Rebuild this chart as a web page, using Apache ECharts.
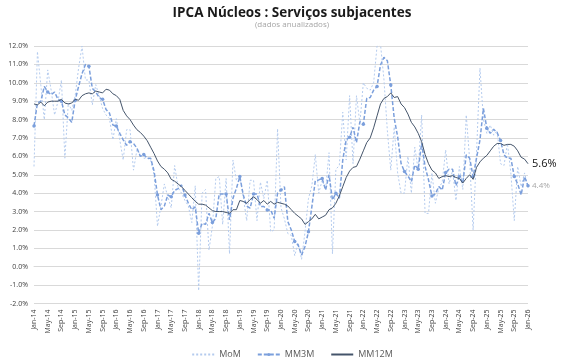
<!DOCTYPE html>
<html><head><meta charset="utf-8">
<script src="https://cdn.jsdelivr.net/npm/echarts@6/dist/echarts.min.js"></script>
<style>html,body{margin:0;padding:0;background:#fff}#c{width:584px;height:364px}</style>
</head><body><div id="c"></div>
<script>
const monthNames = ['Jan','Feb','Mar','Apr','May','Jun','Jul','Aug','Sep','Oct','Nov','Dec'];
const startYear = 14, nMonths = 145;
const categories = [];
for (let i = 0; i < nMonths; i++) categories.push(monthNames[i % 12] + '-' + (startYear + Math.floor(i / 12)));

const mom = [5.45,11.7,9.85,8.0,10.7,9.6,8.25,9.0,10.15,5.9,8.9,8.5,
9.3,10.8,12.0,10.15,10.15,8.8,9.9,9.3,8.6,8.25,8.05,6.9,
8.05,6.9,5.8,7.45,7.45,5.25,6.35,6.1,5.9,5.9,5.8,5.0,
2.2,3.3,4.5,3.8,3.2,5.5,4.3,4.0,3.6,3.3,2.4,4.4,
-1.3,4.0,4.2,0.9,2.2,4.8,4.9,2.3,4.8,0.7,5.8,4.7,
4.9,3.8,2.5,4.7,4.7,2.5,4.6,3.7,4.7,1.9,2.0,7.5,
3.2,2.6,1.8,1.7,0.6,1.3,0.4,1.9,3.7,4.4,6.1,4.0,
4.7,4.2,6.2,0.7,5.3,5.5,8.4,5.8,9.3,5.6,9.3,7.8,
10.0,9.7,9.6,10.0,12.0,12.1,10.2,7.4,5.25,7.6,5.1,4.0,
4.0,6.0,4.0,6.5,5.25,8.25,2.9,2.9,5.1,3.45,4.26,4.6,
6.35,4.5,5.25,3.6,5.45,4.2,8.25,5.8,2.0,6.2,10.8,8.0,
7.25,7.7,7.15,7.4,5.6,5.5,6.7,5.1,2.5,5.45,4.35,5.1,
4.3];

const mm3m = [7.65,8.9,9.0,9.8,9.5,9.35,9.5,9.1,9.0,8.25,8.1,7.85,
9.05,9.8,10.5,11.0,10.9,9.7,9.5,9.2,9.1,8.55,8.35,7.7,
7.65,7.25,6.9,6.6,6.8,6.7,6.45,6.0,6.1,5.9,5.9,5.2,
3.9,3.1,3.3,3.9,3.8,4.15,4.25,4.45,3.9,3.45,3.1,3.25,
1.82,2.36,2.3,2.9,2.4,2.63,3.96,3.96,3.96,2.54,3.72,4.26,
4.9,3.9,3.3,3.18,3.96,3.96,3.27,3.27,3.09,3.09,2.63,4.0,
4.17,4.35,2.45,2.0,1.37,1.18,0.64,1.1,1.9,3.27,4.68,4.72,
4.8,4.17,5.0,3.63,4.0,3.72,5.8,6.9,7.04,7.58,6.75,7.89,
7.74,9.16,9.2,9.6,9.8,10.97,11.38,11.2,9.88,8.07,7.07,5.62,
5.17,4.93,4.63,5.53,5.3,6.71,5.44,4.72,3.85,3.96,4.36,4.17,
5.12,5.3,5.3,4.41,4.9,4.54,6.08,5.9,4.9,5.9,6.89,8.61,
7.53,7.25,7.47,7.29,6.86,6.08,5.9,5.9,4.9,4.5,3.9,4.9,
4.4];

const mm12m = [8.85,8.8,8.95,8.75,8.95,9.0,9.0,9.0,9.1,8.9,8.85,8.9,
9.1,9.05,9.3,9.4,9.45,9.4,9.55,9.5,9.45,9.65,9.6,9.4,
9.3,9.1,8.5,8.2,8.0,7.7,7.45,7.3,7.1,6.85,6.5,6.15,
5.75,5.45,5.3,5.1,4.75,4.65,4.5,4.35,4.15,3.95,3.75,3.55,
3.4,3.4,3.35,3.2,3.05,3.0,3.0,3.0,2.95,2.9,3.1,3.1,
3.6,3.55,3.45,3.65,3.8,3.65,3.45,3.6,3.4,3.55,3.4,3.5,
3.45,3.4,3.3,3.1,2.9,2.75,2.6,2.3,2.45,2.6,2.85,2.6,
2.7,2.8,3.1,3.2,3.45,3.85,4.35,4.85,5.2,5.4,5.45,5.85,
6.3,6.75,7.0,7.55,8.2,8.85,9.15,9.25,9.45,9.2,9.25,8.85,
8.65,8.3,7.85,7.6,7.25,6.8,6.1,5.6,5.25,5.1,4.8,4.9,
4.95,4.9,4.95,4.85,4.8,4.55,4.8,5.0,4.75,5.4,5.7,5.9,
6.05,6.3,6.55,6.7,6.7,6.6,6.65,6.65,6.55,6.3,5.95,5.85,
5.6];

const yTicks = {min: -2, max: 12, interval: 1};
const FONT = 'Open Sans, Lato, sans-serif';

const chart = echarts.init(document.getElementById('c'), null, {renderer: 'canvas'});
chart.setOption({
  animation: false,
  textStyle: {fontFamily: FONT},
  title: {
    text: 'IPCA Núcleos : Serviços subjacentes',
    subtext: '(dados anualizados)',
    left: 'center', top: 1, itemGap: 1,
    textStyle: {fontSize: 13.5, fontWeight: 'bold', color: '#1a1a1a', fontFamily: FONT},
    subtextStyle: {fontSize: 8, color: '#a6a6a6', fontFamily: FONT}
  },
  legend: {
    top: 345, left: 'center', itemWidth: 22, itemHeight: 4, itemGap: 16,
    textStyle: {fontSize: 9, color: '#595959', fontFamily: FONT},
    data: [
      {name: 'MoM', itemStyle: {opacity: 0}},
      {name: 'MM3M'},
      {name: 'MM12M', itemStyle: {opacity: 0}}
    ]
  },
  grid: {left: 34, right: 56, top: 46, bottom: 60.5},
  xAxis: {
    type: 'category', data: categories, boundaryGap: false,
    axisLine: {show: true, lineStyle: {color: '#d9d9d9'}},
    axisTick: {show: false},
    axisLabel: {interval: 3, rotate: 90, fontSize: 7, color: '#404040', margin: 6, fontFamily: FONT},
    splitLine: {show: false}
  },
  yAxis: {
    type: 'value', min: yTicks.min, max: yTicks.max, interval: yTicks.interval,
    axisLine: {show: false}, axisTick: {show: false},
    axisLabel: {fontSize: 7, color: '#404040', margin: 6, formatter: v => v.toFixed(1) + '%', fontFamily: FONT},
    splitLine: {lineStyle: {color: '#d9d9d9', width: 1}}
  },
  series: [
    {
      name: 'MoM', type: 'line', data: mom, symbol: 'none',
      lineStyle: {color: '#b4cbee', width: 1, type: [2, 2]},
      itemStyle: {color: '#b4cbee'}, z: 1
    },
    {
      name: 'MM3M', type: 'line', data: mm3m, symbol: 'circle', symbolSize: 3.5,
      lineStyle: {color: '#7b9fdc', width: 1.5, type: [4, 2]},
      itemStyle: {color: '#7b9fdc'}, z: 2,
      endLabel: {show: true, formatter: p => p.value.toFixed(1) + '%', fontSize: 8, color: '#a6a6a6', distance: 4, fontFamily: FONT}
    },
    {
      name: 'MM12M', type: 'line', data: mm12m, symbol: 'none',
      lineStyle: {color: '#44546a', width: 1},
      itemStyle: {color: '#44546a'}, z: 3,
      endLabel: {show: true, formatter: p => p.value.toFixed(1) + '%', fontSize: 11, color: '#111', distance: 4, fontFamily: FONT}
    }
  ]
});
</script></body></html>
